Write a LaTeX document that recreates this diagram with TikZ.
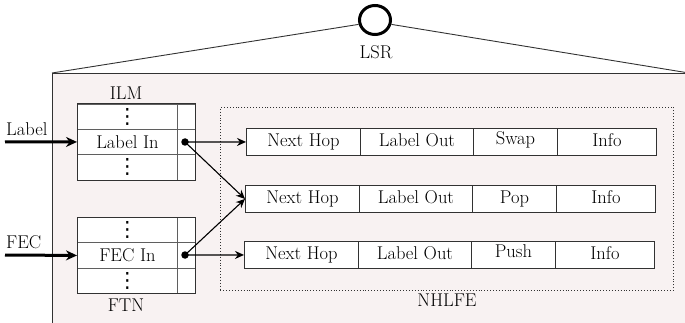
\documentclass[tikz,border=0pt]{standalone}
\usepackage{fontspec}
\usetikzlibrary{arrows.meta,shapes.geometric}
\newfontfamily\symfont{DejaVu Sans}
\definecolor{routerfill}{RGB}{248,242,242}
\definecolor{gridline}{RGB}{50,50,50}
\definecolor{innerline}{RGB}{95,95,95}
% vertical ellipsis used in the lookup tables
\newcommand\stackdots{{\symfont\fontsize{21}{21}\selectfont ⋮}}
\tikzset{
  txt/.style={font=\fontsize{18.5}{20}\selectfont, inner sep=0pt},
  cell/.style={draw=gridline, line width=0.9pt, fill=white, inner sep=0pt,
               anchor=north west, minimum height=27pt,
               text height=12.5pt, text depth=4pt,
               font=\fontsize{18.5}{20}\selectfont},
  tcell/.style={draw=innerline, line width=0.9pt, fill=white, inner sep=0pt,
               anchor=north west, minimum width=100pt,
               font=\fontsize{18.5}{20}\selectfont},
  scell/.style={draw=innerline, line width=0.9pt, fill=white, inner sep=0pt,
               anchor=north west, minimum width=18pt},
  frame/.style={draw=gridline, line width=1pt},
  dot/.style={circle, fill=black, inner sep=0pt, minimum size=7.5pt},
  feed/.style={-{Stealth[length=11pt,width=10pt]}, line width=3pt},
  link/.style={-{Stealth[length=9pt,width=8pt]}, line width=1.1pt},
}
\begin{document}
\begin{tikzpicture}[x=1pt,y=-1pt]
\useasboundingbox (0,0) rectangle (685,323);

% router body and its symbol
\node[draw=gridline, line width=0.9pt, fill=routerfill, inner sep=0pt,
      anchor=north west, minimum width=636pt, minimum height=254pt] (body) at (52,73) {};
\node[draw=black, line width=3pt, fill=white, ellipse, inner sep=0pt,
      minimum width=31pt, minimum height=29pt] (lsr) at (375,20) {};
\draw[line width=0.9pt, gridline] (lsr.195) -- (body.north west);
\draw[line width=0.9pt, gridline] (lsr.-15) -- (body.north east);
\node[txt] (lsrlabel) at (376,52) {LSR};

% ILM table
\node[txt] (ilmlabel) at (126,93) {ILM};
\node[tcell, minimum height=25pt] (ilm1) at (77,104) {\stackdots};
\node[tcell, minimum height=25pt] (ilm2) at (77,129) {Label In};
\node[tcell, minimum height=26pt] (ilm3) at (77,154) {\stackdots};
\node[scell, minimum height=25pt] (ilms1) at (177,104) {};
\node[scell, minimum height=25pt] (ilms2) at (177,129) {};
\node[scell, minimum height=26pt] (ilms3) at (177,154) {};
\draw[frame] (ilm1.north west) rectangle (ilms3.south east);

% FTN table
\node[tcell, minimum height=25pt] (ftn1) at (77,217) {\stackdots};
\node[tcell, minimum height=26pt] (ftn2) at (77,242) {FEC In};
\node[tcell, minimum height=25pt] (ftn3) at (77,268) {\stackdots};
\node[scell, minimum height=25pt] (ftns1) at (177,217) {};
\node[scell, minimum height=26pt] (ftns2) at (177,242) {};
\node[scell, minimum height=25pt] (ftns3) at (177,268) {};
\draw[frame] (ftn1.north west) rectangle (ftns3.south east);
\node[txt] (ftnlabel) at (126,305) {FTN};

% NHLFE area
\node[draw=gridline, dotted, line width=0.9pt, inner sep=0pt, anchor=north west,
      minimum width=453pt, minimum height=183pt] (nhlfe) at (220,107) {};
\node[txt] (nhlfelabel) at (447,300) {NHLFE};

% NHLFE entries
\node[cell, minimum width=114pt] (a1) at (246,128) {Next Hop};
\node[cell, minimum width=113pt] (a2) at (360,128) {Label Out};
\node[cell, minimum width=84pt]  (a3) at (473,128) {\raisebox{2pt}{Swap}};
\node[cell, minimum width=99pt]  (a4) at (557,128) {Info};

\node[cell, minimum width=114pt] (b1) at (245,185) {Next Hop};
\node[cell, minimum width=113pt] (b2) at (359,185) {Label Out};
\node[cell, minimum width=84pt]  (b3) at (472,185) {Pop};
\node[cell, minimum width=99pt]  (b4) at (556,185) {Info};

\node[cell, minimum width=114pt] (c1) at (244,241) {Next Hop};
\node[cell, minimum width=113pt] (c2) at (358,241) {Label Out};
\node[cell, minimum width=84pt]  (c3) at (471,241) {\raisebox{2pt}{Push}};
\node[cell, minimum width=99pt]  (c4) at (555,241) {Info};

% inputs
\node[txt, anchor=base west] (inlabel) at (6,136) {Label};
\node[txt, anchor=base west] (infec) at (6,248) {FEC};
\coordinate (labelsrc) at (5,142);
\coordinate (fecsrc) at (5,255);
\draw[feed] (labelsrc) -- (ilm2.west);
\draw[feed] (fecsrc) -- (ftn2.west);

% lookups
\node[dot] (d1) at (185,142) {};
\node[dot] (d2) at (185,255) {};
\draw[link] (d1.center) -- (a1.west);
\draw[link] (d1.center) -- (b1.west);
\draw[link] (d2.center) -- (b1.west);
\draw[link] (d2.center) -- (c1.west);
\end{tikzpicture}
\end{document}
